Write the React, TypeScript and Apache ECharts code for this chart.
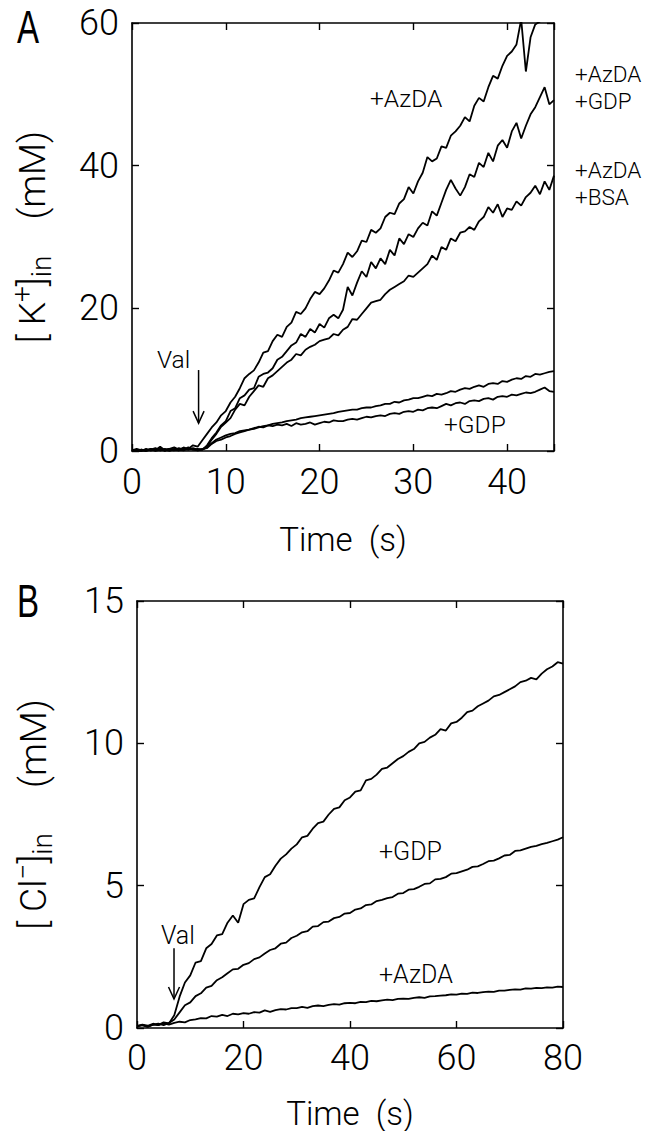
import React, { useEffect, useRef } from "react";
import * as echarts from "echarts";

// ---------- Panel A : [K+]in (mM) vs Time (s) ----------
const timeA = [0,0.5,1,1.5,2,2.5,3,3.5,4,4.5,5,5.5,6,6.5,7,7.5,8,8.5,9,9.5,10,10.5,11,11.5,12,12.5,13,13.5,14,14.5,15,15.5,16,16.5,17,17.5,18,18.5,19,19.5,20,20.5,21,21.5,22,22.5,23,23.5,24,24.5,25,25.5,26,26.5,27,27.5,28,28.5,29,29.5,30,30.5,31,31.5,32,32.5,33,33.5,34,34.5,35,35.5,36,36.5,37,37.5,38,38.5,39,39.5,40,40.5,41,41.5,42,42.5,43,43.5,44,44.5,45];

const kAzda = [
  0.1,0,0.2,0,0.3,0.1,0.6,0.1,0.3,0.5,0.2,0.4,0.3,0.8,
  0.6,1.5,2.4,3.3,4.0,5.0,5.6,6.8,7.6,8.8,
  10.2,10.8,11.3,12.4,13.8,14.0,15.4,16.3,16.0,17.4,
  18.0,19.5,19.2,20.0,21.3,22.3,22.0,22.8,23.9,25.3,
  25.0,26.2,27.8,27.2,28.0,29.5,29.3,31.0,30.6,31.2,
  32.8,33.4,33.2,34.7,35.3,37.0,36.1,37.8,39.0,41.2,
  40.6,41.0,42.7,42.5,44.2,44.8,45.6,46.8,46.2,48.4,
  49.5,49.0,51.0,52.6,52.2,54.0,55.4,56.0,57.0,60.5,
  53.2,58.0,59.8,60.2,61.5,63,64
];

const kAzdaGdp = [
  0.2,0.1,0,0.3,0.1,0.2,0.4,0,0.3,0.2,0.1,0.5,0.2,0.3,0.1,
  0.2,0.8,1.8,2.6,3.6,4.2,5.6,6.0,7.4,7.8,
  8.6,8.8,10.4,10.8,11.0,11.6,12.8,13.2,14.0,14.8,
  15.2,16.4,16.0,17.1,16.6,17.8,17.3,18.6,19.1,18.6,
  19.8,23.0,21.8,23.6,25.2,24.4,26.5,25.6,27.0,26.2,
  28.2,27.4,29.8,29.0,30.4,30.0,31.2,32.0,31.6,33.6,
  33.0,34.8,36.6,38.0,36.8,35.8,37.0,38.8,38.4,40.4,
  39.8,41.8,40.6,42.8,43.6,42.5,44.8,46.0,43.8,45.6,
  47.2,48.2,49.6,51.0,48.6,49.2
];

const kAzdaBsa = [
  0.1,0.3,0.1,0,0.2,0.4,0.1,0.3,0.2,0.1,0.4,0.2,0.5,0.2,0.3,
  0.2,0.6,1.6,2.4,3.4,4.0,4.6,5.8,6.6,6.4,
  7.6,8.4,9.2,9.0,10.2,10.6,11.2,11.8,12.4,12.8,
  13.6,13.4,14.2,14.6,14.9,15.4,15.6,15.8,16.4,16.2,
  17.0,17.4,18.5,18.4,19.2,20.0,20.8,21.0,21.2,22.0,
  22.6,23.0,23.4,23.8,24.6,24.4,25.0,25.6,26.2,27.4,
  26.8,28.6,28.2,29.8,29.4,30.6,30.8,31.4,31.0,32.2,
  32.8,34.2,33.4,34.6,32.8,34.0,33.8,35.0,34.4,35.6,
  36.2,37.2,36.0,37.8,36.6,38.6
];

const kControl = [
  0.1,0,0.2,0.1,0.3,0,0.2,0.1,0.3,0.2,0.1,0.3,0.2,0.4,0.2,0.3,
  0.4,1.0,1.4,1.6,1.9,2.1,2.4,2.6,2.8,3.0,
  3.1,3.3,3.5,3.6,3.8,3.9,4.0,4.2,4.3,4.4,
  4.6,4.7,4.8,4.9,5.0,5.1,5.2,5.3,5.5,5.6,
  5.7,5.8,5.8,6.0,6.1,6.1,6.3,6.4,6.6,6.6,
  6.9,6.8,7.1,7.2,7.4,7.4,7.6,7.8,7.7,8.0,
  7.9,8.1,8.4,8.3,8.6,8.8,8.7,9.0,9.2,9.0,
  9.4,9.5,9.4,9.8,9.7,10.0,10.2,10.1,10.5,10.4,
  10.8,10.7,10.9,11.1,11.2
];

const kGdp = [
  0.2,0.1,0,0.2,0.1,0.3,0.1,0.2,0,0.3,0.2,0.1,0.3,0.2,0.1,0.2,
  0.5,1.1,1.6,1.9,2.2,2.4,2.5,2.8,2.9,3.0,
  3.2,3.4,3.3,3.6,3.5,3.7,3.6,3.8,3.5,3.9,
  3.7,3.8,4.0,3.7,3.9,4.1,4.0,4.3,4.2,4.2,
  4.4,4.5,4.4,4.6,4.8,4.7,4.9,5.0,4.9,5.2,
  5.3,5.2,5.5,5.6,5.5,5.8,5.7,6.0,6.1,6.0,
  6.3,6.6,6.4,6.7,6.8,6.6,7.0,7.1,7.0,7.3,
  7.4,7.2,7.6,7.7,7.6,7.9,7.8,8.0,8.2,8.1,
  8.3,8.6,8.9,8.4,8.3
];

// ---------- Panel B : [Cl-]in (mM) vs Time (s) ----------
const timeB = [0,1,2,3,4,5,6,7,8,9,10,11,12,13,14,15,16,17,18,19,20,21,22,23,24,25,26,27,28,29,30,31,32,33,34,35,36,37,38,39,40,41,42,43,44,45,46,47,48,49,50,51,52,53,54,55,56,57,58,59,60,61,62,63,64,65,66,67,68,69,70,71,72,73,74,75,76,77,78,79,80];

const clControl = [
  0.05,0.12,0.08,0.15,0.1,0.2,0.16,0.45,1.1,1.6,
  1.85,2.3,2.35,2.8,2.95,3.25,3.3,3.7,3.95,3.7,
  4.35,4.5,4.55,4.95,5.3,5.4,5.7,5.95,6.1,6.3,
  6.45,6.7,6.75,7.0,7.2,7.25,7.5,7.7,7.75,8.0,
  8.1,8.3,8.35,8.7,8.75,8.9,9.1,9.15,9.3,9.45,
  9.55,9.7,9.8,10.0,10.05,10.2,10.3,10.5,10.45,10.7,
  10.75,10.9,11.1,11.15,11.3,11.4,11.5,11.65,11.7,11.8,
  11.9,12.0,12.15,12.2,12.3,12.25,12.45,12.6,12.7,12.85,
  12.8
];

const clGdp = [
  0.08,0.1,0.05,0.12,0.15,0.1,0.18,0.3,0.55,0.8,
  0.9,1.12,1.22,1.42,1.48,1.68,1.78,1.92,2.06,2.08,
  2.22,2.28,2.42,2.48,2.62,2.74,2.8,2.96,3.0,3.16,
  3.24,3.36,3.4,3.56,3.58,3.72,3.74,3.86,3.9,4.02,
  4.04,4.16,4.2,4.32,4.34,4.46,4.5,4.56,4.6,4.72,
  4.74,4.86,4.88,4.96,5.06,5.08,5.22,5.24,5.3,5.42,
  5.44,5.5,5.56,5.66,5.68,5.76,5.86,5.88,5.96,6.06,
  6.08,6.22,6.24,6.3,6.36,6.4,6.46,6.5,6.56,6.62,
  6.7
];

const clAzda = [
  0.06,0.1,0.04,0.12,0.1,0.16,0.12,0.18,0.22,0.2,
  0.28,0.3,0.35,0.34,0.42,0.4,0.46,0.42,0.5,0.48,
  0.52,0.5,0.56,0.54,0.62,0.57,0.63,0.66,0.65,0.7,
  0.7,0.74,0.71,0.77,0.79,0.77,0.81,0.84,0.82,0.87,
  0.88,0.87,0.92,0.91,0.95,0.94,0.97,1.0,0.98,1.02,
  1.03,1.02,1.06,1.08,1.06,1.11,1.12,1.14,1.15,1.18,
  1.17,1.21,1.2,1.24,1.23,1.26,1.28,1.27,1.31,1.31,
  1.34,1.36,1.35,1.39,1.38,1.41,1.4,1.43,1.42,1.45,
  1.44
];

// ticks
const xTicksA = [0, 10, 20, 30, 40];
const yTicksA = [0, 20, 40, 60];
const xTicksB = [0, 20, 40, 60, 80];
const yTicksB = [0, 5, 10, 15];

// annotations: [text, x(px), y-centre(px), font size]
const labelsA: [string, number, number, number][] = [
  ["+AzDA", 370, 97, 24.5],
  ["+AzDA", 575, 73, 22.5],
  ["+GDP", 575, 99.5, 22.5],
  ["+AzDA", 575, 169, 22.5],
  ["+BSA", 575, 195.5, 22.5],
  ["+GDP", 444, 423, 24.5],
  ["Val", 157, 358, 24.5],
];
const labelsB: [string, number, number, number][] = [
  ["+GDP", 379, 850, 25],
  ["+AzDA", 379, 973, 25],
  ["Val", 161, 934, 25],
];
// arrows (data coordinates): [panel, time, yFrom, yTo]
const arrows: [number, number, number, number][] = [
  [0, 7.1, 11.35, 3.9],
  [1, 6.95, 2.8, 1.02],
];

const FONT = "Roboto";
const LFONT = "Liberation Sans";

const zip = (xs: number[], ys: number[]) => ys.map((y, i) => [xs[i], y]);

function axisX(gridIndex: number, max: number, interval: number, ticks: number[], pos: "bottom" | "top", withName: boolean, margin: number, nameGap: number) {
  return {
    type: "value",
    gridIndex,
    position: pos,
    min: 0,
    max,
    interval,
    name: withName ? "Time  (s)" : "",
    nameLocation: "middle",
    nameGap,
    nameTextStyle: { fontFamily: FONT, fontWeight: 300, fontSize: 33, lineHeight: 24, color: "#000" },
    axisLine: { show: true, onZero: false, lineStyle: { color: "#000", width: 1.6 } },
    axisTick: { show: true, inside: true, length: 7, lineStyle: { color: "#000", width: 1.4 } },
    axisLabel: {
      show: pos === "bottom",
      margin,
      fontFamily: FONT,
      fontWeight: 300,
      fontSize: 36,
      color: "#000",
      formatter: (v: number) => (ticks.indexOf(v) >= 0 ? String(v) : ""),
    },
    splitLine: { show: false },
  };
}

function axisY(gridIndex: number, max: number, interval: number, ticks: number[], pos: "left" | "right", name: string, rich: any, nameGap: number, margin: number) {
  return {
    type: "value",
    gridIndex,
    position: pos,
    min: 0,
    max,
    interval,
    name,
    nameLocation: "middle",
    nameGap,
    nameRotate: 90,
    nameTextStyle: { fontFamily: FONT, fontWeight: 300, fontSize: 37, color: "#000", rich },
    axisLine: { show: true, onZero: false, lineStyle: { color: "#000", width: 1.6 } },
    axisTick: { show: true, inside: true, length: 7, lineStyle: { color: "#000", width: 1.4 } },
    axisLabel: {
      show: pos === "left",
      margin,
      fontFamily: FONT,
      fontWeight: 300,
      fontSize: 36,
      color: "#000",
      formatter: (v: number) => (ticks.indexOf(v) >= 0 ? String(v) : ""),
    },
    splitLine: { show: false },
  };
}

const richName = {
  b: { fontFamily: FONT, fontWeight: 300, fontSize: 37, color: "#000" },
  sup: { fontFamily: FONT, fontWeight: 300, fontSize: 28, color: "#000", padding: [0, 0, 20, 0] },
  sub: { fontFamily: FONT, fontWeight: 300, fontSize: 28, color: "#000", padding: [18, 0, 0, 0] },
};

function line(data: number[][], xi: number, yi: number) {
  return {
    type: "line",
    xAxisIndex: xi,
    yAxisIndex: yi,
    data,
    showSymbol: false,
    symbol: "none",
    clip: true,
    lineStyle: { color: "#000", width: 1.8 },
    silent: true,
  };
}

export default function App() {
  const ref = useRef<HTMLDivElement>(null);
  useEffect(() => {
    if (!ref.current) return;
    const chart = echarts.init(ref.current, null, { renderer: "svg" });
    const option: any = {
      animation: false,
      backgroundColor: "#fff",
      grid: [
        { left: 129, top: 23, width: 425, height: 428 },
        { left: 137, top: 601, width: 426, height: 427 },
      ],
      xAxis: [
        axisX(0, 45, 10, xTicksA, "bottom", true, 13, 76),
        axisX(0, 45, 10, xTicksA, "top", false, 13, 76),
        axisX(1, 80, 20, xTicksB, "bottom", true, 12, 73),
        axisX(1, 80, 20, xTicksB, "top", false, 12, 73),
      ],
      yAxis: [
        axisY(0, 60, 20, yTicksA, "left", "{b|[ K}{sup|+}{b|]}{sub|in}{b|    (mM)}", richName, 76, 13),
        axisY(0, 60, 20, yTicksA, "right", "", richName, 76, 13),
        axisY(1, 15, 5, yTicksB, "left", "{b|[ Cl}{sup|−}{b|]}{sub|in}{b|     (mM)}", richName, 80, 13),
        axisY(1, 15, 5, yTicksB, "right", "", richName, 80, 13),
      ],
      series: [
        line(zip(timeA, kAzda), 0, 0),
        line(zip(timeA, kAzdaGdp), 0, 0),
        line(zip(timeA, kAzdaBsa), 0, 0),
        line(zip(timeA, kControl), 0, 0),
        line(zip(timeA, kGdp), 0, 0),
        line(zip(timeB, clControl), 2, 2),
        line(zip(timeB, clGdp), 2, 2),
        line(zip(timeB, clAzda), 2, 2),
      ],
    };
    chart.setOption(option);

    const elements: any[] = [];
    const txt = (t: string, x: number, y: number, size: number) => ({
      type: "text",
      x,
      y: y + 1,
      silent: true,
      style: {
        text: t, fill: "#000", fontFamily: FONT, fontWeight: 300, fontSize: size,
        lineHeight: size, textAlign: "left", textVerticalAlign: "middle",
      },
    });
    labelsA.forEach(([t, x, y, s]) => elements.push(txt(t, x, y, s)));
    labelsB.forEach(([t, x, y, s]) => elements.push(txt(t, x, y, s)));
    // panel letters
    elements.push({
      type: "text", x: 17, y: 27, scaleX: 0.72, silent: true,
      style: { text: "A", fill: "#000", font: `46px "${LFONT}"`, textAlign: "left", textVerticalAlign: "middle" },
    });
    elements.push({
      type: "text", x: 17, y: 601, scaleX: 0.72, silent: true,
      style: { text: "B", fill: "#000", font: `46px "${LFONT}"`, textAlign: "left", textVerticalAlign: "middle" },
    });
    arrows.forEach(([panel, t, y1, y2]) => {
      const finder = { xAxisIndex: panel * 2, yAxisIndex: panel * 2 };
      const p1 = chart.convertToPixel(finder as any, [t, y1]) as number[];
      const p2 = chart.convertToPixel(finder as any, [t, y2]) as number[];
      elements.push({ type: "line", silent: true, shape: { x1: p1[0], y1: p1[1], x2: p2[0], y2: p2[1] }, style: { stroke: "#000", lineWidth: 1.5 } });
      elements.push({
        type: "polyline", silent: true,
        shape: { points: [[p2[0] - 5.5, p2[1] - 12], [p2[0], p2[1]], [p2[0] + 5.5, p2[1] - 12]] },
        style: { stroke: "#000", lineWidth: 1.5, fill: null },
      });
    });
    chart.setOption({ graphic: { elements } });
    return () => chart.dispose();
  }, []);
  return <div ref={ref} style={{ position: "absolute", left: 0, top: 0, width: 656, height: 1131, background: "#fff" }} />;
}
